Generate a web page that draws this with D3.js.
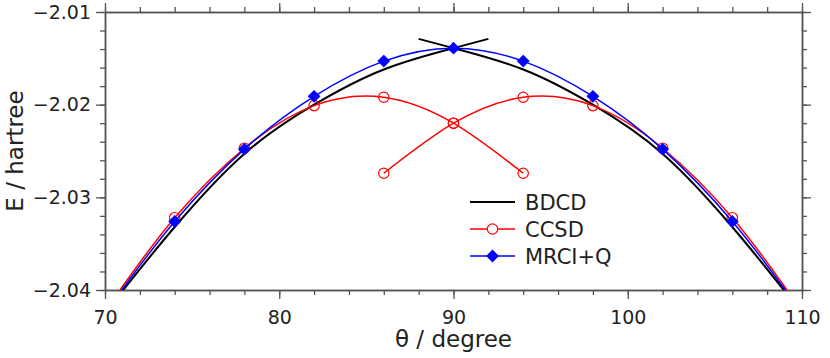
<!DOCTYPE html>
<html>
<head>
<meta charset="utf-8">
<script src="https://cdn.jsdelivr.net/npm/d3@7"></script>
<style>
  html, body { margin: 0; padding: 0; background: #fff; }
  svg { display: block; font-family: "DejaVu Sans", sans-serif; }
</style>
</head>
<body>
<svg id="chart" width="830" height="358"></svg>
<script>
// ---------- data ----------
const xTicks = [70, 80, 90, 100, 110];
const yTicks = [-2.04, -2.03, -2.02, -2.01];

// BDCD: two branches crossing at 90
const bdcdLeftTheta  = [71.05, 74, 78, 82, 86, 90, 92];
const bdcdLeftE      = [-2.0400, -2.0332, -2.0253, -2.0200, -2.0162, -2.0139, -2.0129];
const bdcdRightTheta = [88, 90, 94, 98, 102, 106, 108.95];
const bdcdRightE     = [-2.0129, -2.0139, -2.0162, -2.0200, -2.0253, -2.0332, -2.0400];

// CCSD: two branches, markers on each
const ccsdLeftTheta  = [70.86, 74, 78, 82, 86, 90, 94];
const ccsdLeftE      = [-2.0400, -2.0322, -2.0247, -2.0201, -2.0192, -2.0220, -2.0274];
const ccsdRightTheta = [86, 90, 94, 98, 102, 106, 109.14];
const ccsdRightE     = [-2.0274, -2.0220, -2.0192, -2.0201, -2.0247, -2.0322, -2.0400];
const ccsdLeftMarkTheta  = [74, 78, 82, 86, 90, 94];
const ccsdLeftMarkE      = [-2.0322, -2.0247, -2.0201, -2.0192, -2.0220, -2.0274];
const ccsdRightMarkTheta = [86, 90, 94, 98, 102, 106];
const ccsdRightMarkE     = [-2.0274, -2.0220, -2.0192, -2.0201, -2.0247, -2.0322];

// MRCI+Q
const mrciTheta = [70.96, 74, 78, 82, 86, 90, 94, 98, 102, 106, 109.04];
const mrciE     = [-2.0400, -2.0326, -2.0248, -2.0191, -2.0153, -2.0139, -2.0153, -2.0191, -2.0248, -2.0326, -2.0400];
const mrciMarkTheta = [74, 78, 82, 86, 90, 94, 98, 102, 106];
const mrciMarkE     = [-2.0326, -2.0248, -2.0191, -2.0153, -2.0139, -2.0153, -2.0191, -2.0248, -2.0326];

const legendNames = ["BDCD", "CCSD", "MRCI+Q"];
const colors = ["#000000", "#ff0000", "#0000ff"];

// ---------- layout ----------
const svg = d3.select("#chart");
const L = 105, R = 802, T = 12, B = 290;
const x = d3.scaleLinear().domain([70, 110]).range([L, R]);
const y = d3.scaleLinear().domain([-2.04, -2.01]).range([B, T]);

const zip = (a, b) => a.map((v, i) => [v, b[i]]);
const line = d3.line().x(d => x(d[0])).y(d => y(d[1])).curve(d3.curveNatural);

const fmt = d => d3.format(".2f")(d).replace("-", "\u2212");
const axisColor = "#555";

// minor ticks
const xMinor = d3.range(70, 110.001, 2);
const yMinor = d3.range(-2.04, -2.0099, 0.002);

function styleAxis(g) {
  g.selectAll("path.domain").attr("stroke", axisColor).attr("stroke-width", 1.5);
  g.selectAll(".tick line").attr("stroke", axisColor).attr("stroke-width", 1.3);
  g.selectAll(".tick text").attr("fill", "#222").style("font-size", "19px")
    .style("font-family", "DejaVu Sans, sans-serif");
}

// bottom
const gb = svg.append("g").attr("transform", `translate(0,${B})`);
gb.call(d3.axisBottom(x).tickValues(xMinor).tickSize(5).tickFormat("").tickSizeOuter(0));
gb.append("g").call(d3.axisBottom(x).tickValues(xTicks).tickSize(9).tickSizeOuter(0).tickFormat(d3.format("d")).tickPadding(8));
styleAxis(gb);
gb.selectAll("g > g > .tick text").attr("dy", "0.9em");
// top
const gt = svg.append("g").attr("transform", `translate(0,${T})`);
gt.call(d3.axisTop(x).tickValues(xMinor).tickSize(5).tickFormat("").tickSizeOuter(0));
gt.append("g").call(d3.axisTop(x).tickValues(xTicks).tickSize(9).tickFormat("").tickSizeOuter(0));
styleAxis(gt);
// left
const gl = svg.append("g").attr("transform", `translate(${L},0)`);
gl.call(d3.axisLeft(y).tickValues(yMinor).tickSize(5).tickFormat("").tickSizeOuter(0));
gl.append("g").call(d3.axisLeft(y).tickValues(yTicks).tickSize(9).tickSizeOuter(0).tickFormat(fmt).tickPadding(5));
styleAxis(gl);
// right
const gr = svg.append("g").attr("transform", `translate(${R},0)`);
gr.call(d3.axisRight(y).tickValues(yMinor).tickSize(5).tickFormat("").tickSizeOuter(0));
gr.append("g").call(d3.axisRight(y).tickValues(yTicks).tickSize(9).tickFormat("").tickSizeOuter(0));
styleAxis(gr);

// axis titles
svg.append("text").attr("x", (L + R) / 2).attr("y", 347)
  .attr("text-anchor", "middle").style("font-size", "23px").attr("fill", "#222")
  .text("\u03b8 / degree");
svg.append("text").attr("transform", `translate(15,${(T + B) / 2}) rotate(-90)`)
  .attr("text-anchor", "middle").attr("dy", "0.35em").style("font-size", "23px").attr("fill", "#222")
  .text("E / hartree");

// ---------- series ----------
const plot = svg.append("g");

// BDCD
[zip(bdcdLeftTheta, bdcdLeftE), zip(bdcdRightTheta, bdcdRightE)].forEach(d => {
  plot.append("path").attr("d", line(d)).attr("fill", "none")
    .attr("stroke", colors[0]).attr("stroke-width", 2);
});

// CCSD
[zip(ccsdLeftTheta, ccsdLeftE), zip(ccsdRightTheta, ccsdRightE)].forEach(d => {
  plot.append("path").attr("d", line(d)).attr("fill", "none")
    .attr("stroke", colors[1]).attr("stroke-width", 1.5);
});
const ccsdMarks = zip(ccsdLeftMarkTheta, ccsdLeftMarkE).concat(zip(ccsdRightMarkTheta, ccsdRightMarkE));
plot.selectAll("circle.ccsd").data(ccsdMarks).enter().append("circle")
  .attr("class", "ccsd").attr("cx", d => x(d[0])).attr("cy", d => y(d[1])).attr("r", 5.2)
  .attr("fill", "none").attr("stroke", colors[1]).attr("stroke-width", 1.2);

// MRCI+Q
plot.append("path").attr("d", line(zip(mrciTheta, mrciE))).attr("fill", "none")
  .attr("stroke", colors[2]).attr("stroke-width", 1.5);
const diamond = d3.symbol().type(d3.symbolDiamond2).size(105);
plot.selectAll("path.mrci").data(zip(mrciMarkTheta, mrciMarkE)).enter().append("path")
  .attr("class", "mrci").attr("d", diamond)
  .attr("transform", d => `translate(${x(d[0])},${y(d[1])})`)
  .attr("fill", colors[2]);

// ---------- legend ----------
const lg = svg.append("g");
legendNames.forEach((name, i) => {
  const ly = 202 + i * 27;
  lg.append("line").attr("x1", 470).attr("x2", 515).attr("y1", ly).attr("y2", ly)
    .attr("stroke", colors[i]).attr("stroke-width", i === 0 ? 2 : 1.5);
  if (i === 1) lg.append("circle").attr("cx", 492.5).attr("cy", ly).attr("r", 5.2)
    .attr("fill", "#fff").attr("stroke", colors[1]).attr("stroke-width", 1.2);
  if (i === 2) lg.append("path").attr("d", diamond).attr("transform", `translate(492.5,${ly})`)
    .attr("fill", colors[2]);
  lg.append("text").attr("x", 525).attr("y", ly).attr("dy", "0.36em")
    .style("font-size", "21px").attr("fill", "#222").text(name);
});
</script>
</body>
</html>
